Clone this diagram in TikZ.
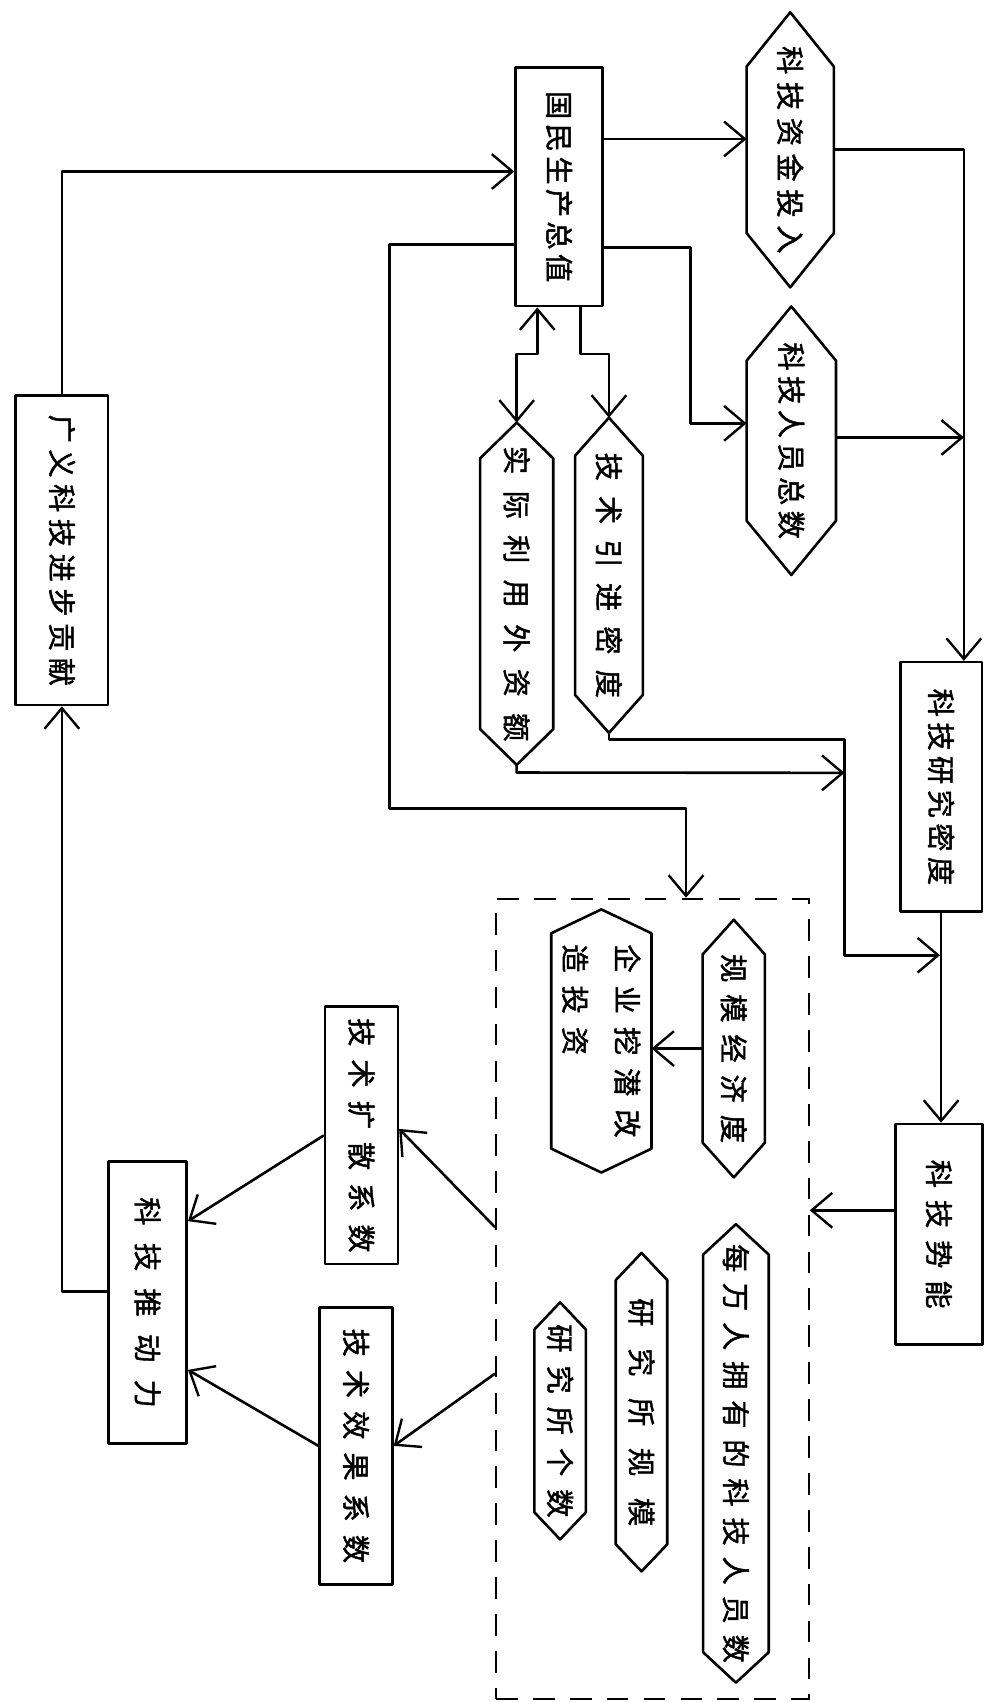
\documentclass[tikz,border=0pt]{standalone}
\usepackage{fontspec}
\usepackage{graphicx}
\usetikzlibrary{arrows.meta,calc}
\newfontfamily\cjk{Noto Sans CJK SC}[FakeBold=1.6]
\newlength\chgap
\def\spA#1{\ifx#1\relax\unkern\else#1\kern\chgap\expandafter\spA\fi}
\newcommand\vtxt[2]{\rotatebox{-90}{\setlength\chgap{#1}\spA#2\relax}}
\newcommand\hexv[2]{\draw[ln] ([yshift=-#2]#1.north west) -- (#1.north) -- ([yshift=-#2]#1.north east) -- ([yshift=#2]#1.south east) -- (#1.south) -- ([yshift=#2]#1.south west) -- cycle;}
\begin{document}
\begin{tikzpicture}[x=1pt,y=-1pt,
  ln/.style={line width=2.4pt, black, line join=round},
  arr/.style={ln, -{Straight Barb[length=19pt,width=32pt,line width=2.2pt]}},
  arrb/.style={ln, {Straight Barb[length=19pt,width=32pt,line width=2.2pt]}-{Straight Barb[length=19pt,width=32pt,line width=2.2pt]}},
  box/.style={draw, ln, inner sep=0pt, font=\cjk\fontsize{26}{30}\selectfont},
  hex/.style={draw=none, inner sep=0pt, font=\cjk\fontsize{26}{30}\selectfont}]
\useasboundingbox[fill=white] (0,0) rectangle (910,1568);

% nodes
\node[box, minimum width=85pt, minimum height=285pt] (gy) at (57,507) {\vtxt{6pt}{广义科技进步贡献}};
\node[box, minimum width=80pt, minimum height=220pt] (gnp) at (515,172) {\vtxt{4pt}{国民生产总值}};
\node[hex, minimum width=80pt, minimum height=253pt] (zj) at (728,138) {\vtxt{7pt}{科技资金投入}};
\node[hex, minimum width=82pt, minimum height=247pt] (ry) at (729,406) {\vtxt{5pt}{科技人员总数}};
\node[hex, minimum width=62pt, minimum height=290pt] (jy) at (561,530) {\vtxt{14pt}{技术引进密度}};
\node[hex, minimum width=67pt, minimum height=315pt] (sj) at (476,547) {\vtxt{15pt}{实际利用外资额}};
\node[box, minimum width=75pt, minimum height=230pt] (yj) at (867,725) {\vtxt{5pt}{科技研究密度}};
\node[box, minimum width=80pt, minimum height=203pt] (ss) at (865,1137) {\vtxt{11pt}{科技势能}};
\node[draw, line width=2pt, dash pattern=on 20pt off 14pt, minimum width=288pt, minimum height=737pt, inner sep=0pt] (db) at (601,1196.5) {};
\node[hex, minimum width=57pt, minimum height=237pt] (gm) at (676,966) {\vtxt{11pt}{规模经济度}};
\node[hex, minimum width=92pt, minimum height=242pt] (qy) at (554,959) {\rotatebox{-90}{\vbox{\baselineskip=48pt\setlength\chgap{12pt}\hbox{\spA 企业挖潜改\relax}\hbox{\spA 造投资\relax}}}};
\node[hex, minimum width=60pt, minimum height=422pt] (mw) at (678,1339) {\vtxt{10pt}{每万人拥有的科技人员数}};
\node[hex, minimum width=47pt, minimum height=293pt] (ygm) at (591,1301) {\vtxt{20pt}{研究所规模}};
\node[hex, minimum width=47pt, minimum height=218pt] (ygs) at (516,1309) {\vtxt{12pt}{研究所个数}};
\node[box, minimum width=67pt, minimum height=237pt] (ks) at (333,1046) {\vtxt{12pt}{技术扩散系数}};
\node[box, minimum width=67pt, minimum height=255pt] (kx) at (328,1332) {\vtxt{12pt}{技术效果系数}};
\node[box, minimum width=72pt, minimum height=260pt] (td) at (136,1200) {\vtxt{16pt}{科技推动力}};

% hexagon outlines
\hexv{zj}{50pt}
\hexv{ry}{50pt}
\hexv{jy}{35pt}
\hexv{sj}{33pt}
\hexv{gm}{32pt}
\hexv{qy}{22pt}
\hexv{mw}{28pt}
\hexv{ygm}{25pt}
\hexv{ygs}{25pt}

% junction coordinates
\coordinate (j1) at (888,403);
\coordinate (j2) at (866,880);
\coordinate (j3) at (778,712);

% connectors
\draw[arr] (gy.north) |- ($(gnp.west)+(0,-14)$);
\draw[arr] ($(gnp.east)+(0,-44)$) -- ($(zj.west)+(0,-10)$);
\draw[arr] (zj.east) -| ($(yj.north)+(21,0)$);
\draw[arr] ($(gnp.east)+(0,56)$) -- ++(80,0) |- ($(ry.west)+(0,-16)$);
\draw[arr] ($(ry.east)+(0,-3)$) -- (j1);
\draw[arr] ($(gnp.west)+(0,53)$) -- ++(-115,0) -- ++(0,520) -| ($(db.north)+(31,0)$);
\draw[arrb] ($(gnp.south)+(-20,0)$) -- ++(0,43) -| (sj.north);
\draw[arr] ($(gnp.south)+(20,0)$) -- ++(0,43) -| (jy.north);
\draw[arr] (jy.south) -- ++(0,6) -| ($(j2)+(-88,0)$) -- (j2);
\draw[arr] (sj.south) -- ++(0,7) -- (j3);
\draw[arr] (yj.south) -- (yj.south |- ss.north);
\draw[arr] ($(ss.west)+(0,-22)$) -- ($(db.east)+(0,-81.5)$);
\draw[arr] ($(db.west)+(0,-66)$) -- ($(ks.east)+(0,-6)$);
\draw[arr] ($(db.west)+(0,69)$) -- (kx.east);
\draw[arr] (ks.west) -- ($(td.east)+(0,-75)$);
\draw[arr] (kx.west) -- ($(td.east)+(0,62)$);
\draw[arr] ($(td.west)+(0,-10)$) -| (gy.south);
\draw[arr] (gm.west) -- (gm.west -| qy.east);
\end{tikzpicture}
\end{document}
